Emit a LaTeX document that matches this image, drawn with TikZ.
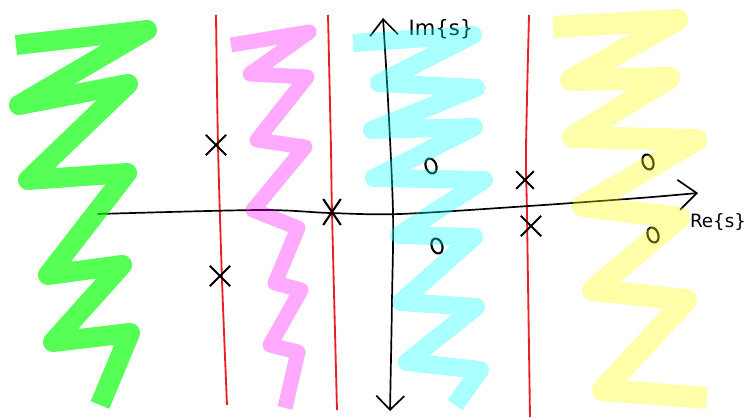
\documentclass[tikz,border=0pt]{standalone}
\usepackage{fontspec}
\setsansfont{DejaVu Sans}
\definecolor{RocGreen}{RGB}{0,255,0}
\definecolor{RocPink}{RGB}{255,0,255}
\definecolor{RocCyan}{RGB}{0,255,255}
\definecolor{RocYellow}{RGB}{255,255,0}
\definecolor{PoleRed}{RGB}{235,30,35}
\usepackage{tikz}
\usetikzlibrary{arrows.meta, shapes.misc, shapes.geometric, positioning}

\begin{document}
\begin{tikzpicture}[
  x=0.025cm, y=-0.025cm,
  roc/.style={line width=#1, line join=round, line cap=butt},
  axisline/.style={black, line width=1.2pt, line cap=round},
  borderline/.style={PoleRed, line width=1.3pt},
  polecross/.style={cross out, draw=black, line width=1.5pt, minimum width=13pt, minimum height=13pt, inner sep=0pt},
  zeroring/.style={ellipse, draw=black, line width=1.5pt, minimum width=7.5pt, minimum height=11pt, inner sep=0pt, rotate=20},
  axislabel/.style={font=\sffamily, inner sep=0pt}
]
\useasboundingbox (0,0) rectangle (744,419);

\coordinate (reL) at (98,214);
\coordinate (reR) at (698,193);
\coordinate (imB) at (390,411);
\coordinate (imT) at (383,18);

\draw[borderline] plot[smooth] coordinates {(216,15) (218,145) (222,280) (227,405)};
\draw[borderline] plot[smooth] coordinates {(328,15) (331,150) (332,212) (337,410)};
\draw[borderline] plot[smooth] coordinates {(529,15) (526,150) (527,215) (530,417)};

\draw[axisline, -{Straight Barb[length=4.5mm, width=7.5mm]}]
  plot[smooth] coordinates {(reL) (260,210) (330,213) (400,214) (529,206) (640,198) (reR)};
\draw[axisline, {Straight Barb[length=3.5mm, width=7mm]}-{Straight Barb[length=4mm, width=7mm]}]
  plot[smooth] coordinates {(imB) (392,300) (393,212) (388,100) (imT)};

\node[axislabel, font=\sffamily\fontsize{15}{15}\selectfont] (imlabel) at (441,29) {Im\{s\}};
\node[axislabel, font=\sffamily\fontsize{13}{13}\selectfont] (relabel) at (718,222) {Re\{s\}};

\node[polecross] (pole1) at (216,145) {};
\node[polecross] (pole2) at (220,276) {};
\node[polecross, minimum width=11pt, minimum height=17pt] (pole3) at (332,212) {};
\node[polecross, minimum width=11pt, minimum height=11pt] (pole4) at (525,180) {};
\node[polecross] (pole5) at (531,226) {};

\node[zeroring] (zero1) at (431,166) {};
\node[zeroring] (zero2) at (437,246) {};
\node[zeroring] (zero3) at (648,162) {};
\node[zeroring] (zero4) at (653,235) {};

\draw[roc=0.5cm, RocGreen, opacity=0.667]
  (16,45) -- (147,30) -- (19,105) -- (128,84) -- (28,180) -- (127,173)
  -- (48,275) -- (122,265) -- (53,342) -- (130,333) -- (100,405);
\draw[roc=0.375cm, RocPink, opacity=0.333]
  (231,45) -- (309,32) -- (250,74) -- (307,77) -- (257,140) -- (305,147)
  -- (253,210) -- (298,228) -- (275,283) -- (301,290) -- (270,345) -- (298,352) -- (285,408);
\draw[roc=0.45cm, RocCyan, opacity=0.333]
  (353,43) -- (473,35) -- (379,83) -- (476,88) -- (372,130) -- (474,127)
  -- (374,178) -- (484,180) -- (399,235) -- (474,237) -- (401,302) -- (476,307)
  -- (407,362) -- (480,370) -- (455,405);
\draw[roc=0.55cm, RocYellow, opacity=0.333]
  (553,27) -- (677,20) -- (571,80) -- (669,78) -- (573,137) -- (696,140)
  -- (583,206) -- (679,218) -- (593,290) -- (686,300) -- (603,390) -- (707,398);
\end{tikzpicture}
\end{document}
